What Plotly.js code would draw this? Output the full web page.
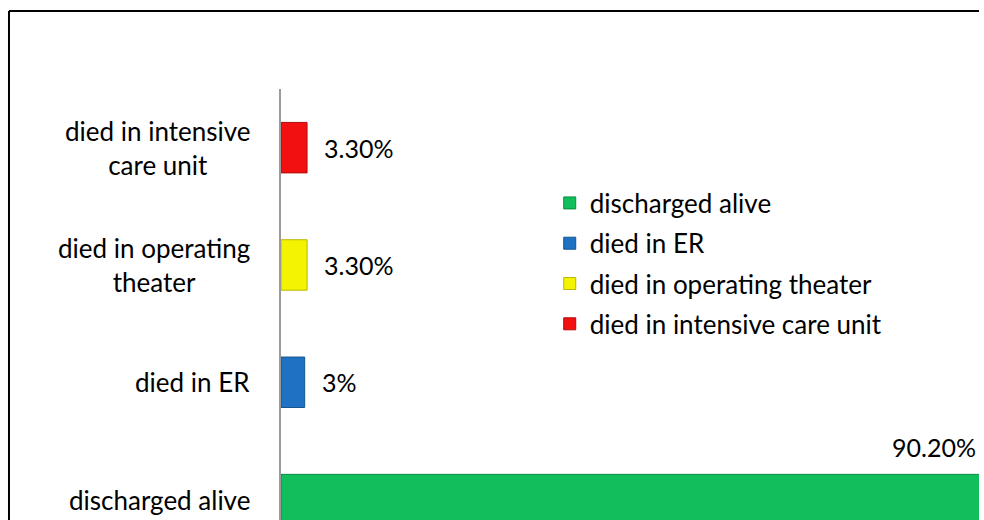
<!DOCTYPE html>
<html>
<head>
<meta charset="utf-8">
<script src="https://cdn.plot.ly/plotly-3.0.1.min.js"></script>
<style>
  html, body { margin: 0; padding: 0; background: #ffffff; }
  #chart { width: 979px; height: 520px; }
</style>
</head>
<body>
<div id="chart"></div>
<script>
// ---- data ----
const categories = ["discharged alive", "died in ER", "died in operating theater", "died in intensive care unit"];
const values = [90.2, 3, 3.3, 3.3];
const valueLabels = ["90.20%", "3%", "3.30%", "3.30%"];
const tickLabels = ["discharged alive", "died in ER", "died in operating<br>theater", "died in intensive<br>care unit"];
const colors = ["#12be5c", "#1f72c3", "#f4f400", "#f21010"];
const lineColors = ["#0a8c42", "#15548f", "#b8b800", "#b00c0c"];

const FONT = "Lato, 'Open Sans', sans-serif";
const XMAX = 88.4;

const traces = categories.map((c, i) => ({
  type: "bar",
  orientation: "h",
  name: c,
  legendgroup: "g" + i,
  x: [values[i]],
  y: [c],
  width: 0.43,
  marker: { color: colors[i], line: { color: lineColors[i], width: 1 } },
  hoverinfo: "x+y"
}));

const annotations = [];
categories.forEach((c, i) => {
  // category labels (left)
  annotations.push({
    xref: "paper", yref: "y", x: 0, y: c,
    xanchor: "right", yanchor: "middle", xshift: -29,
    align: "center", showarrow: false,
    text: tickLabels[i],
    font: { family: FONT, size: 26, color: "#000000" }
  });
  // value labels
  const big = values[i] > XMAX;
  annotations.push(big ? {
    xref: "paper", yref: "y", x: 1, y: c,
    xanchor: "right", yanchor: "middle",
    xshift: -1, yshift: 53,
    showarrow: false, text: valueLabels[i],
    font: { family: FONT, size: 25, color: "#000000" }
  } : {
    xref: "x", yref: "y", x: values[i], y: c,
    xanchor: "left", yanchor: "middle",
    xshift: 15, yshift: 0,
    showarrow: false, text: valueLabels[i],
    font: { family: FONT, size: 25, color: "#000000" }
  });
});

const layout = {
  width: 979, height: 520,
  margin: { l: 281, r: 0, t: 89, b: 0, pad: 0 },
  paper_bgcolor: "#ffffff", plot_bgcolor: "#ffffff",
  barmode: "overlay",
  showlegend: true,
  legend: {
    x: 0.385, y: 0.79, xanchor: "left", yanchor: "top",
    traceorder: "grouped", tracegroupgap: 3.5,
    font: { family: FONT, size: 26, color: "#000000" },
    bgcolor: "rgba(0,0,0,0)", itemwidth: 30
  },
  xaxis: {
    range: [0, XMAX], showticklabels: false, showgrid: false,
    zeroline: false, showline: false, ticks: ""
  },
  yaxis: {
    type: "category", categoryarray: categories, categoryorder: "array",
    range: [-0.174, 3.5], showticklabels: false, showgrid: false,
    zeroline: false, showline: true, linecolor: "#9a9a9a", linewidth: 2, ticks: ""
  },
  annotations: annotations,
  shapes: [
    { type: "line", xref: "paper", yref: "paper", x0: -0.3897, x1: 1.0, y0: 1.181, y1: 1.181,
      line: { color: "#000000", width: 2 } },
    { type: "line", xref: "paper", yref: "paper", x0: -0.3897, x1: -0.3897, y0: 1.181, y1: -0.02,
      line: { color: "#000000", width: 2 } }
  ]
};

Plotly.newPlot("chart", traces, layout, { displayModeBar: false, staticPlot: true });
</script>
</body>
</html>
